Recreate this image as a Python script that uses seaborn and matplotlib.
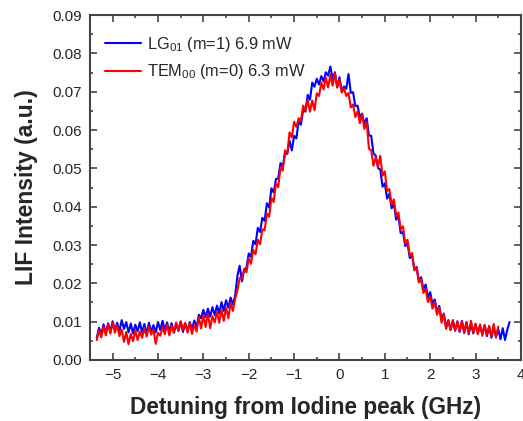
import numpy as np
import pandas as pd
import seaborn as sns
import matplotlib
matplotlib.use("Agg")
import matplotlib.pyplot as plt
from matplotlib.ticker import MultipleLocator, FormatStrFormatter, FuncFormatter

# scan grids (GHz), 0.05 GHz sampling
x_lg = np.round(np.arange(-5.35, 3.7501, 0.05), 2)
x_tem = np.round(np.arange(-5.35, 3.5001, 0.05), 2)

# LG01 (m=1) 6.9 mW
lif_lg = [
    0.0058, 0.0084, 0.0068, 0.0093, 0.0071, 0.0096, 0.0074, 0.0101, 0.0078, 0.0097,
    0.0076, 0.0104, 0.0081, 0.0099, 0.0072, 0.0095, 0.0069, 0.0092, 0.0075, 0.0098,
    0.0071, 0.0094, 0.0068, 0.0097, 0.0074, 0.0091, 0.0072, 0.0099, 0.0078, 0.0102,
    0.0079, 0.0098, 0.0074, 0.0096, 0.0071, 0.0093, 0.0076, 0.0100, 0.0073, 0.0095,
    0.0077, 0.0099, 0.0081, 0.0103, 0.0085, 0.0118, 0.0109, 0.0131, 0.0112, 0.0134,
    0.0113, 0.0138, 0.0117, 0.0142, 0.0121, 0.0151, 0.0128, 0.0156, 0.0137, 0.0163,
    0.0145, 0.0168, 0.0219, 0.0246, 0.0205, 0.0236, 0.0241, 0.0278, 0.0269, 0.0311,
    0.0302, 0.0345, 0.0334, 0.0371, 0.0363, 0.0409, 0.0398, 0.0448, 0.0437, 0.0472,
    0.0474, 0.0514, 0.0503, 0.0539, 0.0538, 0.0572, 0.0547, 0.0585, 0.0578, 0.0623,
    0.0614, 0.0653, 0.0648, 0.0692, 0.0679, 0.0724, 0.0713, 0.0734, 0.0719, 0.0741,
    0.0727, 0.0751, 0.0742, 0.0766, 0.0733, 0.0751, 0.0711, 0.0738, 0.0702, 0.0714,
    0.0708, 0.0746, 0.0697, 0.0699, 0.0662, 0.0664, 0.0633, 0.0643, 0.0615, 0.0631,
    0.0586, 0.0585, 0.0539, 0.0533, 0.0501, 0.0497, 0.0452, 0.0461, 0.0421, 0.0434,
    0.0396, 0.0408, 0.0366, 0.0375, 0.0331, 0.0334, 0.0297, 0.0305, 0.0266, 0.0274,
    0.0236, 0.0243, 0.0207, 0.0216, 0.0184, 0.0197, 0.0164, 0.0177, 0.0146, 0.0158,
    0.0125, 0.0141, 0.0106, 0.0121, 0.0086, 0.0104, 0.0078, 0.0103, 0.0076, 0.0101,
    0.0073, 0.0102, 0.0070, 0.0099, 0.0067, 0.0096, 0.0069, 0.0093, 0.0071, 0.0088,
    0.0068, 0.0091, 0.0062, 0.0087, 0.0058, 0.0084, 0.0061, 0.0081, 0.0054, 0.0083,
    0.0052, 0.0079, 0.0099,
]

# TEM00 (m=0) 6.3 mW
lif_tem = [
    0.0052, 0.0078, 0.0059, 0.0087, 0.0064, 0.0094, 0.0069, 0.0098, 0.0071, 0.0091,
    0.0062, 0.0079, 0.0047, 0.0073, 0.0041, 0.0068, 0.0049, 0.0077, 0.0052, 0.0074,
    0.0058, 0.0083, 0.0061, 0.0087, 0.0066, 0.0079, 0.0042, 0.0071, 0.0063, 0.0086,
    0.0067, 0.0093, 0.0064, 0.0089, 0.0072, 0.0098, 0.0076, 0.0101, 0.0079, 0.0097,
    0.0071, 0.0096, 0.0068, 0.0093, 0.0074, 0.0112, 0.0082, 0.0117, 0.0086, 0.0121,
    0.0083, 0.0114, 0.0098, 0.0126, 0.0097, 0.0131, 0.0102, 0.0137, 0.0109, 0.0148,
    0.0128, 0.0159, 0.0181, 0.0214, 0.0212, 0.0237, 0.0229, 0.0266, 0.0251, 0.0287,
    0.0276, 0.0314, 0.0302, 0.0341, 0.0338, 0.0382, 0.0374, 0.0423, 0.0412, 0.0461,
    0.0451, 0.0503, 0.0494, 0.0547, 0.0539, 0.0594, 0.0581, 0.0622, 0.0608, 0.0631,
    0.0624, 0.0664, 0.0651, 0.0679, 0.0648, 0.0677, 0.0652, 0.0696, 0.0689, 0.0724,
    0.0706, 0.0737, 0.0711, 0.0745, 0.0716, 0.0749, 0.0712, 0.0731, 0.0698, 0.0709,
    0.0689, 0.0697, 0.0659, 0.0667, 0.0634, 0.0649, 0.0618, 0.0641, 0.0603, 0.0621,
    0.0551, 0.0547, 0.0507, 0.0529, 0.0504, 0.0533, 0.0481, 0.0492, 0.0441, 0.0446,
    0.0406, 0.0419, 0.0376, 0.0385, 0.0341, 0.0349, 0.0304, 0.0314, 0.0272, 0.0279,
    0.0234, 0.0241, 0.0202, 0.0211, 0.0175, 0.0185, 0.0151, 0.0166, 0.0134, 0.0152,
    0.0118, 0.0137, 0.0097, 0.0118, 0.0081, 0.0103, 0.0078, 0.0104, 0.0077, 0.0099,
    0.0075, 0.0101, 0.0072, 0.0098, 0.0069, 0.0102, 0.0071, 0.0095, 0.0067, 0.0093,
    0.0063, 0.0091, 0.0066, 0.0089, 0.0061, 0.0094, 0.0058, 0.0087,
]

label_lg = r"LG$_{01}$ (m=1) 6.9 mW"
label_tem = r"TEM$_{00}$ (m=0) 6.3 mW"

df = pd.concat([
    pd.DataFrame({"detuning": x_lg, "lif": lif_lg, "beam": label_lg}),
    pd.DataFrame({"detuning": x_tem, "lif": lif_tem, "beam": label_tem}),
], ignore_index=True)

sns.set_style("ticks")
plt.rcParams['font.family'] = ['Liberation Sans', 'DejaVu Sans']
plt.rcParams['mathtext.fontset'] = 'custom'
plt.rcParams['mathtext.rm'] = 'Liberation Sans'
plt.rcParams['mathtext.it'] = 'Liberation Sans'

fig = plt.figure(figsize=(5.23, 4.21), dpi=100)
ax = fig.add_axes([0.172, 0.145, 0.824, 0.819])

sns.lineplot(data=df, x="detuning", y="lif", hue="beam",
             palette={label_lg: "#0000ff", label_tem: "#ff0000"},
             linewidth=1.5, ax=ax, sort=False, estimator=None)

ax.set_xlim(-5.5, 4)
ax.set_ylim(0, 0.09)
ax.xaxis.set_major_locator(MultipleLocator(1))
ax.xaxis.set_minor_locator(MultipleLocator(0.5))
ax.yaxis.set_major_locator(MultipleLocator(0.01))
ax.yaxis.set_minor_locator(MultipleLocator(0.005))
ax.yaxis.set_major_formatter(FormatStrFormatter("%.2f"))
ax.xaxis.set_major_formatter(FuncFormatter(lambda v, p: f"{int(v)}".replace("-", "\u2212")))

ax.tick_params(which="both", direction="in", top=True, right=True,
               color="#444444", width=1.2, labelsize=11, pad=6)
ax.tick_params(which="major", length=5)
ax.tick_params(which="minor", length=2.5)
for s in ax.spines.values():
    s.set_color("#444444")
    s.set_linewidth(1.5)

ax.set_xlabel("Detuning from Iodine peak (GHz)", fontsize=16.3, fontweight="bold", labelpad=10)
ax.set_ylabel("LIF Intensity (a.u.)", fontsize=16.5, fontweight="bold", labelpad=10)

ax.legend(loc="upper left", frameon=False, fontsize=11.8, handlelength=2.2,
          handletextpad=0.4, labelspacing=0.5, borderaxespad=0.5,
          bbox_to_anchor=(0.0, 0.985), title=None)

fig.savefig("out.png", dpi=100)
